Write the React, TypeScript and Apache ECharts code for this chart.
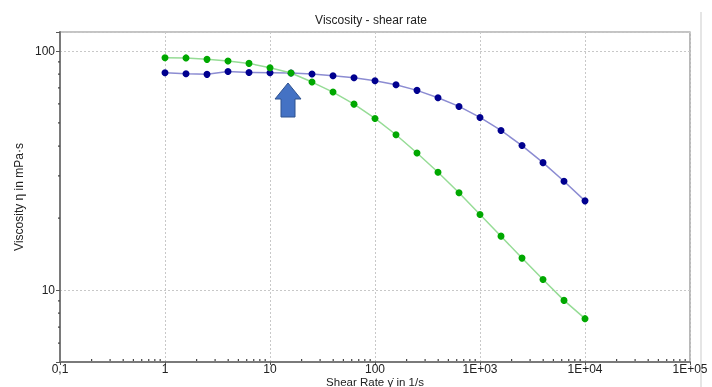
import React, { useEffect, useRef } from "react";
import * as echarts from "echarts";

const shearRate = [1, 1.585, 2.512, 3.981, 6.31, 10, 15.85, 25.12, 39.81, 63.1, 100, 158.5, 251.2, 398.1, 631, 1000, 1585, 2512, 3981, 6310, 10000];
const viscosityBlue = [81.1, 80.3, 79.8, 82.1, 81.3, 81.1, 80.9, 80.1, 78.8, 77.3, 75.0, 72.2, 68.4, 63.7, 58.6, 52.7, 46.5, 40.2, 34.1, 28.5, 23.6];
const viscosityGreen = [93.7, 93.5, 92.2, 90.8, 88.7, 85.1, 80.9, 74.1, 67.3, 59.9, 52.2, 44.6, 37.4, 31.1, 25.5, 20.7, 16.8, 13.6, 11.06, 9.05, 7.59];

const xDecades = [0.1, 1, 10, 100, 1000, 10000];
const yDecades = [1, 10, 100];
const minorMultipliers = [2, 3, 4, 5, 6, 7, 8, 9];
const xMin = 0.1, xMax = 100000, yMin = 5, yMax = 120;

const xLabel = (v: number) => {
  const l = Math.log10(v);
  const r = Math.round(l);
  if (Math.abs(l - r) > 1e-6) return "";
  if (r === -1) return "0,1";
  if (r <= 2) return String(Math.round(Math.pow(10, r)));
  return "1E+0" + r;
};
const yLabel = (v: number) => {
  const l = Math.log10(v);
  const r = Math.round(l);
  if (Math.abs(l - r) > 1e-6) return "";
  return String(Math.round(Math.pow(10, r)));
};

export default function App() {
  const ref = useRef<HTMLDivElement>(null);
  useEffect(() => {
    if (!ref.current) return;
    const chart = echarts.init(ref.current, null, { renderer: "svg" });

    const minorTicks: number[][] = [];
    xDecades.forEach((d) => minorMultipliers.forEach((m) => {
      const v = d * m;
      if (v < xMax) minorTicks.push([v, yMin, 0]);
    }));
    yDecades.forEach((d) => minorMultipliers.forEach((m) => {
      const v = d * m;
      if (v > yMin && v < yMax) minorTicks.push([xMin, v, 1]);
    }));

    const font = "'Liberation Sans', Arial, sans-serif";
    chart.setOption({
      animation: false,
      title: {
        text: "Viscosity - shear rate",
        left: 366,
        top: 9,
        textAlign: "center",
        textStyle: { fontFamily: font, fontSize: 12, fontWeight: "normal", color: "#222" },
      },
      grid: {
        left: 60, right: 22, top: 32, bottom: 25,
        outerBoundsMode: "none",
        containLabel: false,
        show: true, borderColor: "#8a8a8a", borderWidth: 1.2, backgroundColor: "transparent",
      },
      xAxis: {
        type: "log", logBase: 10, min: xMin, max: xMax,
        name: "Shear Rate γ̇ in 1/s",
        nameLocation: "middle", nameGap: 14,
        nameMoveOverlap: false,
        nameTextStyle: { fontFamily: font, fontSize: 11.5, color: "#222", lineHeight: 11 },
        axisLine: { show: true, lineStyle: { color: "#7a7a7a", width: 2 } },
        axisTick: { show: true, length: 3, lineStyle: { color: "#555" } },
        axisLabel: { formatter: xLabel, fontFamily: font, fontSize: 12, lineHeight: 12, color: "#222", margin: 1, showMinLabel: true, showMaxLabel: true },
        splitLine: { show: true, lineStyle: { color: "#c8c8c8", type: [2, 2], width: 1 } },
      },
      yAxis: {
        type: "log", logBase: 10, min: yMin, max: yMax,
        name: "Viscosity η in mPa·s",
        nameLocation: "middle", nameGap: 35,
        nameMoveOverlap: false,
        nameTextStyle: { fontFamily: font, fontSize: 12, color: "#222" },
        axisLine: { show: true, lineStyle: { color: "#7a7a7a", width: 2 } },
        axisTick: { show: true, length: 4, lineStyle: { color: "#555" } },
        axisLabel: { formatter: yLabel, fontFamily: font, fontSize: 12, color: "#222", margin: 5 },
        splitLine: { show: true, lineStyle: { color: "#c8c8c8", type: [2, 2], width: 1 } },
      },
      series: [
        {
          type: "line",
          name: "blue",
          data: shearRate.map((x, i) => [x, viscosityBlue[i]]),
          symbol: "circle", symbolSize: 7,
          lineStyle: { color: "#8c8cd2", width: 1.5 },
          itemStyle: { color: "#00008f" },
          z: 3,
        },
        {
          type: "line",
          name: "green",
          data: shearRate.map((x, i) => [x, viscosityGreen[i]]),
          symbol: "circle", symbolSize: 7,
          lineStyle: { color: "#96dc96", width: 1.5 },
          itemStyle: { color: "#00a800" },
          z: 4,
        },
        {
          type: "custom",
          silent: true,
          clip: false,
          encode: { x: 0, y: 1 },
          data: minorTicks,
          renderItem: (params: any, api: any) => {
            const p = api.coord([api.value(0), api.value(1)]);
            const dir = api.value(2);
            const shape = dir === 0
              ? { x1: p[0], y1: p[1] - 1, x2: p[0], y2: p[1] - 3 }
              : { x1: p[0] - 2, y1: p[1], x2: p[0], y2: p[1] };
            return { type: "line", shape, style: { stroke: "#444", lineWidth: 1.2 } };
          },
          z: 5,
        },
      ],
      graphic: [
        {
          type: "polygon",
          shape: { points: [[288, 83], [301, 99], [295, 99], [295, 117], [281, 117], [281, 99], [275, 99]] },
          style: { fill: "#4472c4", stroke: "#2f528f", lineWidth: 1 },
          z: 10,
        },
        {
          type: "line",
          shape: { x1: 701, y1: 12, x2: 701, y2: 387 },
          style: { stroke: "#dddddd", lineWidth: 1.5 },
        },
      ],
    });
    return () => chart.dispose();
  }, []);
  return <div ref={ref} style={{ position: "fixed", left: 0, top: 0, width: 712, height: 387 }} />;
}
